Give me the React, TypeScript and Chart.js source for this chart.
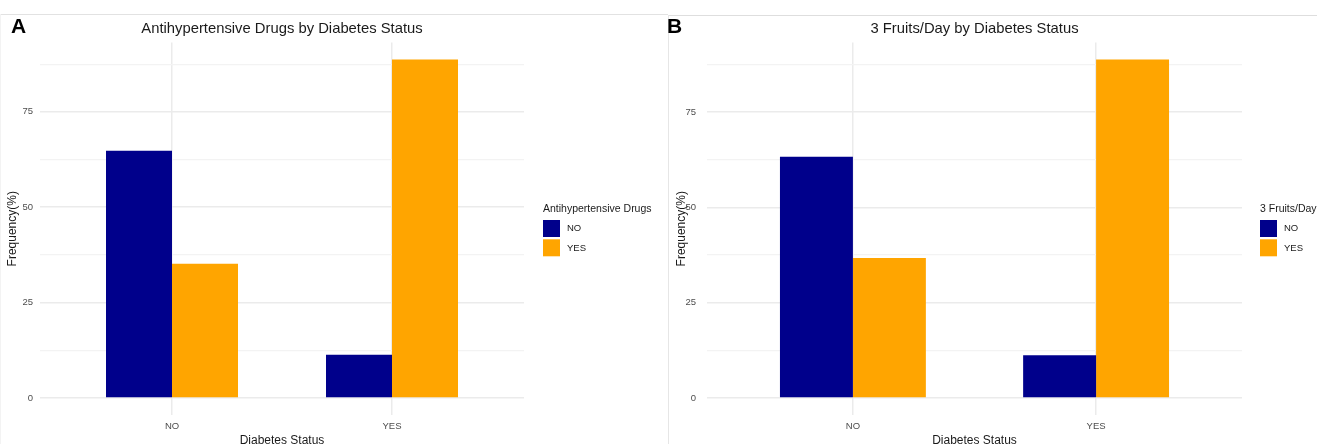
import React, { useEffect, useRef } from 'react';
import { Chart, registerables } from 'chart.js';

Chart.register(...registerables);

const FONT = "'Liberation Sans', Arial, Helvetica, sans-serif";
Chart.defaults.font.family = FONT;

// ---- data ----
const categories = ['NO', 'YES'];
const seriesLabels = ['NO', 'YES'];
const seriesColors = ['#00008B', '#FFA500'];

const drugsNo = [64.8, 11.3];
const drugsYes = [35.2, 88.7];
const fruitsNo = [63.3, 11.2];
const fruitsYes = [36.7, 88.8];

const yTicks = [0, 12.5, 25, 37.5, 50, 62.5, 75, 87.5];
const yTickLabels = ['0', '', '25', '', '50', '', '75', ''];

const xTitle = 'Diabetes Status';
const yTitle = 'Frequency(%)';

type PanelCfg = {
  title: string;
  legendTitle: string;
  no: number[];
  yes: number[];
  W: number;
  H: number;
  plotLeft: number;
  plotRight: number;
  plotTop: number;
  plotBottom: number;
  tickPad: number;
  yTitlePad: number;
  legendX: number;
  labelX: number;
};

const panelA: PanelCfg = {
  title: 'Antihypertensive Drugs by Diabetes Status',
  legendTitle: 'Antihypertensive Drugs',
  no: drugsNo,
  yes: drugsYes,
  W: 668,
  H: 460,
  plotLeft: 40,
  plotRight: 524,
  plotTop: 42.6,
  plotBottom: 414.9,
  tickPad: 7,
  yTitlePad: 5.8,
  legendX: 543,
  labelX: 567,
};

const panelB: PanelCfg = {
  title: '3 Fruits/Day by Diabetes Status',
  legendTitle: '3 Fruits/Day',
  no: fruitsNo,
  yes: fruitsYes,
  W: 649,
  H: 460,
  plotLeft: 39,
  plotRight: 574,
  plotTop: 42.6,
  plotBottom: 414.9,
  tickPad: 11,
  yTitlePad: 6.8,
  legendX: 592,
  labelX: 616,
};

function overlayPlugin(p: PanelCfg) {
  return {
    id: 'overlay',
    afterDraw(chart: any) {
      const { ctx, chartArea } = chart;
      ctx.save();
      ctx.fillStyle = '#1a1a1a';
      ctx.font = `14.8px ${FONT}`;
      ctx.textAlign = 'center';
      ctx.textBaseline = 'middle';
      ctx.fillText(p.title, (chartArea.left + chartArea.right) / 2, 29);

      ctx.textAlign = 'left';
      ctx.font = `10.5px ${FONT}`;
      ctx.fillText(p.legendTitle, p.legendX, 209);
      chart.data.datasets.forEach((ds: any, i: number) => {
        const y = 220 + i * 19.3;
        ctx.fillStyle = ds.backgroundColor;
        ctx.fillRect(p.legendX, y, 17, 17);
        ctx.fillStyle = '#1a1a1a';
        ctx.font = `9.5px ${FONT}`;
        ctx.fillText(ds.label, p.labelX, y + 8.8);
      });
      ctx.restore();
    },
  };
}

function Panel({ p }: { p: PanelCfg }) {
  const ref = useRef<HTMLCanvasElement>(null);
  useEffect(() => {
    if (!ref.current) return;
    const all = [...p.no, ...p.yes, 0];
    const maxV = Math.max(...all);
    const minV = Math.min(...all);
    const span = maxV - minV;
    const yMin = minV - 0.05 * span;
    const yMax = maxV + 0.05 * span;
    const seriesData = [p.no, p.yes];
    const chart = new Chart(ref.current, {
      type: 'bar',
      data: {
        datasets: seriesData.map((vals, s) => ({
          label: seriesLabels[s],
          data: categories.map((c, i) => ({ x: i + 1, y: vals[i] })),
          backgroundColor: seriesColors[s],
          borderWidth: 0,
          categoryPercentage: 0.6,
          barPercentage: 1,
        })),
      },
      options: {
        responsive: false,
        animation: false,
        layout: { padding: { top: p.plotTop, right: p.W - p.plotRight, bottom: 0, left: 0 } },
        plugins: {
          legend: { display: false },
          title: { display: false },
          tooltip: { enabled: false },
        },
        scales: {
          x: {
            type: 'linear',
            min: 0.4,
            max: categories.length + 0.6,
            offset: false,
            afterBuildTicks: (s: any) => {
              s.ticks = categories.map((c, i) => ({ value: i + 1 }));
            },
            ticks: {
              callback: (v: any, i: number) => categories[i] ?? '',
              color: '#4d4d4d',
              font: { size: 9.5, family: FONT },
              padding: 6,
              maxRotation: 0,
              autoSkip: false,
            },
            grid: { offset: false, drawTicks: false, color: '#ebebeb', lineWidth: 1.5 },
            border: { display: false },
            title: {
              display: true,
              text: xTitle,
              color: '#1a1a1a',
              font: { size: 12, family: FONT },
              padding: { top: 0, bottom: 11.8 },
            },
            afterFit: (s: any) => {
              s.height = p.H - p.plotBottom;
            },
          },
          y: {
            type: 'linear',
            min: yMin,
            max: yMax,
            afterBuildTicks: (s: any) => {
              s.ticks = yTicks.map((v) => ({ value: v }));
            },
            ticks: {
              callback: (v: any, i: number) => yTickLabels[i] ?? '',
              color: '#4d4d4d',
              font: { size: 9.5, family: FONT },
              padding: p.tickPad,
              autoSkip: false,
            },
            grid: {
              drawTicks: false,
              color: (c: any) => (c.tick && c.tick.value % 25 === 0 ? '#ebebeb' : '#f3f3f3'),
              lineWidth: (c: any) => (c.tick && c.tick.value % 25 === 0 ? 1.5 : 1.2),
            },
            border: { display: false },
            title: {
              display: true,
              text: yTitle,
              color: '#1a1a1a',
              font: { size: 12, family: FONT },
              padding: { top: p.yTitlePad, bottom: 0 },
            },
            afterFit: (s: any) => {
              s.width = p.plotLeft;
            },
          },
        },
      } as any,
      plugins: [overlayPlugin(p)],
    });
    return () => chart.destroy();
  }, [p]);
  return <canvas ref={ref} width={p.W} height={p.H} style={{ display: 'block' }} />;
}

const letterStyle: React.CSSProperties = {
  position: 'absolute',
  top: 15.2,
  fontFamily: FONT,
  fontWeight: 'bold',
  fontSize: 21,
  lineHeight: '21px',
  color: '#000',
};

export default function App() {
  return (
    <div
      style={{
        position: 'fixed',
        left: 0,
        top: 0,
        width: 1317,
        height: 444,
        overflow: 'hidden',
        background: '#fff',
      }}
    >
      <div style={{ position: 'absolute', left: 0, top: 0 }}>
        <Panel p={panelA} />
      </div>
      <div style={{ position: 'absolute', left: 668, top: 0 }}>
        <Panel p={panelB} />
      </div>
      <div style={{ position: 'absolute', left: 1, top: 14, width: 667, height: 1, background: '#e2e2e2' }} />
      <div style={{ position: 'absolute', left: 668, top: 15, width: 649, height: 1, background: '#dedede' }} />
      <div style={{ position: 'absolute', left: 668, top: 15, width: 1, height: 429, background: '#e6e6e6' }} />
      <div style={{ position: 'absolute', left: 0, top: 14, width: 1, height: 430, background: '#f3f3f3' }} />
      <div style={{ ...letterStyle, left: 11 }}>A</div>
      <div style={{ ...letterStyle, left: 667 }}>B</div>
    </div>
  );
}
